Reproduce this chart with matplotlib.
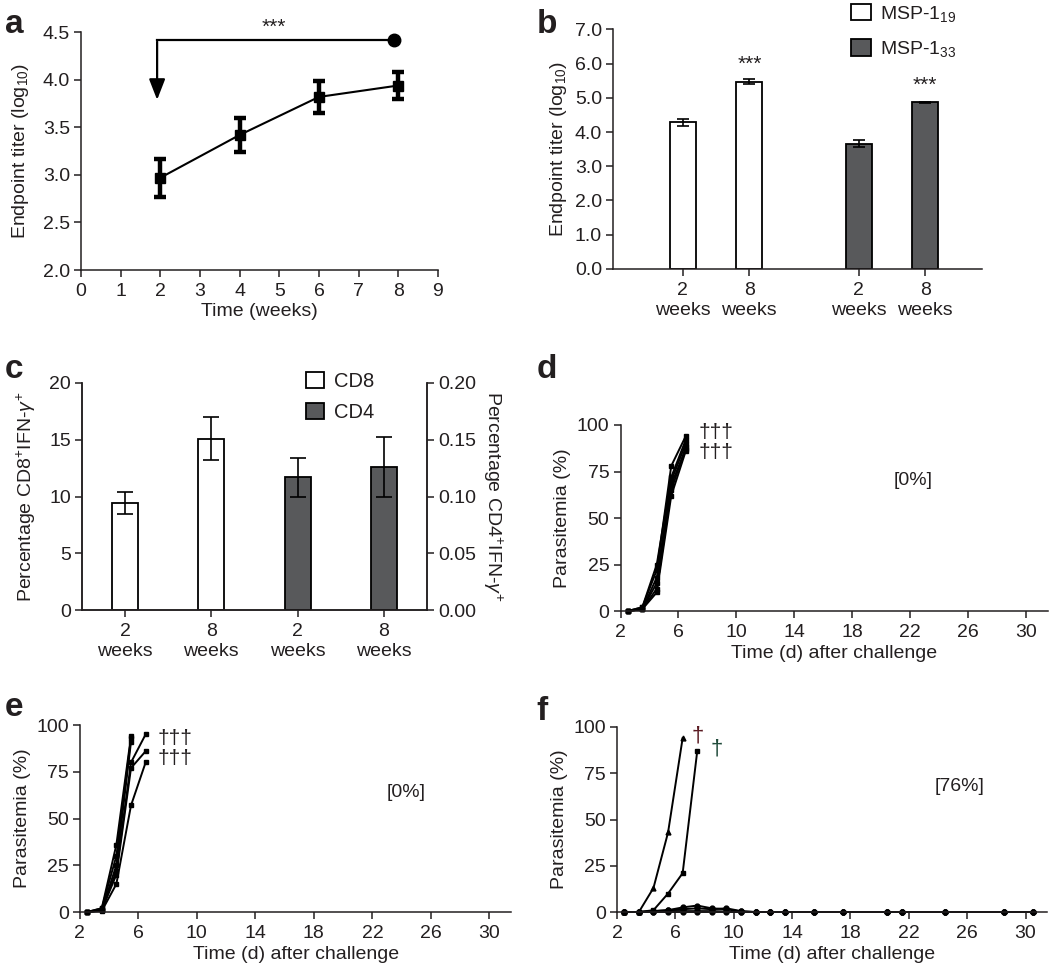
import numpy as np
import matplotlib
matplotlib.use("Agg")
import matplotlib.pyplot as plt
from matplotlib.patches import Patch

INK = "#231f20"
DARK = "#58595b"

plt.rcParams.update({
    "font.family": ["Liberation Sans", "DejaVu Sans"],
    "font.size": 14,
    "axes.linewidth": 1.1,
    "axes.edgecolor": INK,
    "axes.labelcolor": INK,
    "text.color": INK,
    "xtick.color": INK, "ytick.color": INK,
    "xtick.major.width": 1.1, "ytick.major.width": 1.1,
    "xtick.major.size": 5, "ytick.major.size": 5,
    "xtick.major.pad": 4.5, "ytick.major.pad": 3,
    "xtick.labelsize": 14, "ytick.labelsize": 14,
    "axes.labelsize": 14,
    "mathtext.fontset": "custom",
    "mathtext.rm": "Liberation Sans",
    "mathtext.it": "Liberation Sans:italic",
    "mathtext.default": "regular",
})

# ---- panel a: antibody titer over time
A_WEEKS = [2, 4, 6, 8]
A_TITER = [2.97, 3.42, 3.82, 3.94]
A_ERR = [0.20, 0.18, 0.17, 0.14]

# ---- panel b: endpoint titers
B_LABELS = ["2\nweeks", "8\nweeks", "2\nweeks", "8\nweeks"]
B_MSP19 = [4.28, 5.47]
B_MSP19_ERR = [0.10, 0.07]
B_MSP33 = [3.66, 4.87]
B_MSP33_ERR = [0.11, 0.02]

# ---- panel c: IFN-gamma+ T cells
C_LABELS = ["2\nweeks", "8\nweeks", "2\nweeks", "8\nweeks"]
C_CD8 = [9.4, 15.1]
C_CD8_ERR = [0.97, 1.9]
C_CD4 = [0.117, 0.126]
C_CD4_ERR = [0.017, 0.026]

# ---- panels d-f: parasitemia per mouse (days after challenge)
D_DAYS = [2.5, 3.5, 4.5, 5.5, 6.5]
D_MICE = [
    [0, 1, 12, 65, 88],
    [0, 2, 22, 78, 94],
    [0, 1, 15, 70, 90],
    [0, 1, 10, 62, 86],
    [0, 2, 25, 72, 92],
    [0, 1, 18, 68, 87],
]

E_DAYS_SHORT = [2.5, 3.5, 4.5, 5.5]
E_DAYS_LONG = [2.5, 3.5, 4.5, 5.5, 6.5]
E_MICE_SHORT = [
    [0, 2, 30, 93],
    [0, 1, 25, 91],
    [0, 2, 36, 94],
]
E_MICE_LONG = [
    [0, 1, 22, 80, 95],
    [0, 1, 20, 77, 86],
    [0, 0.5, 15, 57, 80],
]

F_DAYS_DIE1 = [2.5, 3.5, 4.5, 5.5, 6.5]
F_DIE1 = [0, 0, 13, 43, 94]
F_DAYS_DIE2 = [2.5, 3.5, 4.5, 5.5, 6.5, 7.5]
F_DIE2 = [0, 0, 1, 10, 21, 87]
F_DAYS_SURV = [2.5, 3.5, 4.5, 5.5, 6.5, 7.5, 8.5, 9.5, 10.5, 11.5, 12.5, 13.5,
               15.5, 17.5, 20.5, 21.5, 24.5, 28.5, 30.5]
F_SURV = [
    [0, 0, 0.5, 1, 2.5, 3.5, 2, 1.5, 0.3, 0, 0, 0, 0, 0, 0, 0, 0, 0, 0],
    [0, 0, 0.5, 1, 1.5, 2, 1.5, 2, 0.5, 0, 0, 0, 0, 0, 0, 0, 0, 0, 0],
    [0, 0, 0, 0.5, 0.5, 0.5, 0.5, 0.3, 0, 0, 0, 0, 0, 0, 0, 0, 0, 0, 0],
    [0, 0, 0, 0, 0, 0, 0, 0, 0, 0, 0, 0, 0, 0, 0, 0, 0, 0, 0],
]


def clean(ax):
    ax.spines["top"].set_visible(False)
    ax.spines["right"].set_visible(False)


fig = plt.figure(figsize=(10.5, 9.77), dpi=100)

# ---------------- a
ax = fig.add_axes([0.0771, 0.7236, 0.340, 0.2434])
ax.errorbar(A_WEEKS, A_TITER, yerr=A_ERR, color="black", lw=1.5, marker="s",
            ms=7, elinewidth=3.2, capsize=4.5, capthick=3.2)
ax.plot([1.92, 7.88], [4.42, 4.42], color="black", lw=1.6)
ax.plot([7.88], [4.42], "o", color="black", ms=9)
ax.annotate("", xy=(1.92, 3.76), xytext=(1.92, 4.43),
            arrowprops=dict(arrowstyle="-|>,head_width=0.35,head_length=0.9",
                            color="black", lw=1.6))
ax.text(4.85, 4.55, "***", ha="center", va="center", fontsize=15)
ax.set_xlim(0, 9)
ax.set_ylim(2.0, 4.5)
ax.set_xticks(range(10))
ax.set_yticks(np.arange(2.0, 4.51, 0.5))
ax.yaxis.set_major_formatter(matplotlib.ticker.FormatStrFormatter("%.1f"))
ax.set_xlabel("Time (weeks)", labelpad=2)
ax.set_ylabel("Endpoint titer (log$_{10}$)", labelpad=8)
clean(ax)

# ---------------- b
ax = fig.add_axes([0.584, 0.7247, 0.351, 0.2453])
b_pos = np.array([1.0, 2.0, 3.65, 4.65])
bw = 0.39
ax.bar(b_pos[:2], B_MSP19, bw, yerr=B_MSP19_ERR, color="white",
       edgecolor="black", lw=1.3, capsize=4, error_kw=dict(lw=1.2, capthick=1.2))
ax.bar(b_pos[2:], B_MSP33, bw, yerr=B_MSP33_ERR, color=DARK,
       edgecolor="black", lw=1.3, capsize=4, error_kw=dict(lw=1.2, capthick=1.2))
ax.text(b_pos[1], B_MSP19[1] + 0.22, "***", ha="center", va="bottom", fontsize=15)
ax.text(b_pos[3], B_MSP33[1] + 0.22, "***", ha="center", va="bottom", fontsize=15)
ax.set_xlim(-0.05, 5.5)
ax.set_ylim(0, 7.0)
ax.set_yticks(np.arange(0, 7.01, 1.0))
ax.yaxis.set_major_formatter(matplotlib.ticker.FormatStrFormatter("%.1f"))
ax.set_xticks(b_pos, B_LABELS)
ax.set_ylabel("Endpoint titer (log$_{10}$)")
ax.legend(handles=[Patch(facecolor="white", edgecolor="black", lw=1.3),
                   Patch(facecolor=DARK, edgecolor="black", lw=1.3)],
          labels=["MSP-1$_{19}$", "MSP-1$_{33}$"], frameon=False, fontsize=14,
          loc="upper left", bbox_to_anchor=(0.625, 1.14), handlelength=1.0,
          handleheight=0.95, labelspacing=0.8, handletextpad=0.5,
          borderaxespad=0)
clean(ax)

# ---------------- c
ax = fig.add_axes([0.078, 0.3756, 0.3287, 0.2324])
c_pos = np.array([0.5, 1.5, 2.5, 3.5])
cw = 0.30
ax.bar(c_pos[:2], C_CD8, cw, yerr=C_CD8_ERR, color="white", edgecolor="black",
       lw=1.3, capsize=5.5, error_kw=dict(lw=1.2, capthick=1.2))
ax.set_xlim(0, 4.0)
ax.set_ylim(0, 20)
ax.set_yticks([0, 5, 10, 15, 20])
ax.set_xticks(c_pos, C_LABELS)
ax.set_ylabel("Percentage CD8$^{+}$IFN-$\\mathit{\\gamma}^{+}$", labelpad=8)
ax.spines["top"].set_visible(False)
ax2 = ax.twinx()
ax2.bar(c_pos[2:], C_CD4, cw, yerr=C_CD4_ERR, color=DARK, edgecolor="black",
        lw=1.3, capsize=5.5, error_kw=dict(lw=1.2, capthick=1.2))
ax2.set_ylim(0, 0.20)
ax2.set_yticks([0, 0.05, 0.10, 0.15, 0.20])
ax2.yaxis.set_major_formatter(matplotlib.ticker.FormatStrFormatter("%.2f"))
ax2.set_ylabel("Percentage CD4$^{+}$IFN-$\\mathit{\\gamma}^{+}$",
               rotation=270, labelpad=20)
ax2.spines["top"].set_visible(False)
ax2.legend(handles=[Patch(facecolor="white", edgecolor="black", lw=1.3),
                    Patch(facecolor=DARK, edgecolor="black", lw=1.3)],
           labels=["CD8", "CD4"], frameon=False, fontsize=14.5,
           loc="upper left", bbox_to_anchor=(0.625, 1.085), handlelength=0.9,
           handleheight=0.85, labelspacing=0.6, handletextpad=0.5,
           borderaxespad=0)


def challenge_axes(rect):
    ax = fig.add_axes(rect)
    ax.set_xlim(2, 31.5)
    ax.set_ylim(0, 100)
    ax.set_xticks(range(2, 31, 4))
    ax.set_yticks([0, 25, 50, 75, 100])
    ax.set_ylabel("Parasitemia (%)")
    ax.set_xlabel("Time (d) after challenge", labelpad=3)
    clean(ax)
    return ax


# ---------------- d
ax = challenge_axes([0.591, 0.3746, 0.407, 0.1904])
for m in D_MICE:
    ax.plot(D_DAYS, m, color="black", lw=1.4, marker="s", ms=3.5, clip_on=False)
ax.text(8.6, 96, "†††", ha="center", va="center", fontsize=15)
ax.text(8.6, 85, "†††", ha="center", va="center", fontsize=15)
ax.text(22.2, 70, "[0%]", ha="center", va="center", fontsize=14)

# ---------------- e
ax = challenge_axes([0.076, 0.0665, 0.411, 0.1914])
for m in E_MICE_SHORT:
    ax.plot(E_DAYS_SHORT, m, color="black", lw=1.4, marker="s", ms=3.5, clip_on=False)
for m in E_MICE_LONG:
    ax.plot(E_DAYS_LONG, m, color="black", lw=1.4, marker="s", ms=3.5, clip_on=False)
ax.text(8.5, 93, "†††", ha="center", va="center", fontsize=15)
ax.text(8.5, 82, "†††", ha="center", va="center", fontsize=15)
ax.text(24.3, 64, "[0%]", ha="center", va="center", fontsize=14)

# ---------------- f
ax = challenge_axes([0.5876, 0.0665, 0.410, 0.1894])
ax.plot(F_DAYS_DIE1, F_DIE1, color="black", lw=1.4, marker="^", ms=3.5, clip_on=False)
ax.plot(F_DAYS_DIE2, F_DIE2, color="black", lw=1.4, marker="s", ms=3.5, clip_on=False)
for m in F_SURV:
    ax.plot(F_DAYS_SURV, m, color="black", lw=1.4, marker="o", ms=3.5, clip_on=False)
ax.text(7.5, 95, "†", ha="center", va="center", fontsize=16, color="#5a1a22")
ax.text(8.8, 88, "†", ha="center", va="center", fontsize=16, color="#1f4a3a")
ax.text(25.5, 68, "[76%]", ha="center", va="center", fontsize=14)

# panel letters
for lab, x, y in [("a", 0.005, 0.966), ("b", 0.511, 0.966), ("c", 0.005, 0.613),
                  ("d", 0.511, 0.613), ("e", 0.005, 0.267), ("f", 0.511, 0.263)]:
    fig.text(x, y, lab, fontsize=24, fontweight="bold", va="baseline")

fig.savefig("out.png", dpi=100)
